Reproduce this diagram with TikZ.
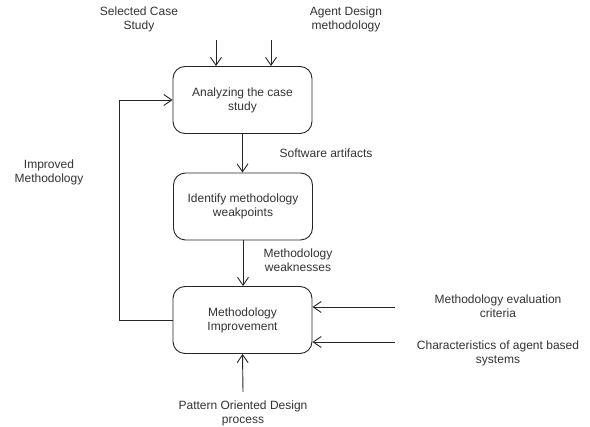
\documentclass[tikz,border=0pt]{standalone}
\usepackage{fontspec}
\setmainfont{Liberation Sans}
\usetikzlibrary{arrows.meta}
\definecolor{ink}{HTML}{262626}
\definecolor{txt}{HTML}{333333}
\tikzset{
  stage/.style={draw=ink, line width=0.9pt, rounded corners=12pt,
    minimum width=139pt, minimum height=67pt, align=center,
    text=txt, font=\fontsize{12}{14}\selectfont, inner sep=0pt},
  lbl/.style={align=center, text=txt, font=\fontsize{12}{14}\selectfont, inner sep=0pt},
  flow/.style={draw=ink, line width=0.9pt, -{Straight Barb[length=8pt,width=11pt,line width=0.9pt]}},
  plain/.style={draw=ink, line width=0.9pt}
}
\begin{document}
\begin{tikzpicture}[x=1pt,y=-1pt]
\useasboundingbox (0,0) rectangle (590,427);
\fill[white] (0,0) rectangle (590,427);

% process stages
\node[stage] (analyze) at (242.5,100) {Analyzing the case\\study};
\node[stage] (identify) at (243,206.5) {Identify methodology\\weakpoints};
\node[stage] (improve) at (242.5,320) {Methodology\\Improvement};

% inputs and labels
\node[lbl] (casestudy) at (139,19) {Selected Case\\Study};
\node[lbl] (agentdesign) at (346,19) {Agent Design\\methodology};
\node[lbl] (improved) at (49,172) {Improved\\Methodology};
\node[lbl] (artifacts) at (326,153) {Software artifacts};
\node[lbl] (weak) at (298,260) {Methodology\\weaknesses};
\node[lbl] (criteria) at (498,306) {Methodology evaluation\\criteria};
\node[lbl] (charac) at (498,353) {Characteristics of agent based\\systems};
\node[lbl] (pattern) at (243,413) {Pattern Oriented Design\\process};

% free ends of the input arrows
\coordinate (inA) at (216,40);
\coordinate (inB) at (271,40);
\coordinate (inC) at (395,307);
\coordinate (inD) at (395,342);
\coordinate (inE) at (243,392);
\coordinate (loopL) at (119,0);

% input arrows
\draw[flow] (inA) -- (inA |- analyze.north);
\draw[flow] (inB) -- (inB |- analyze.north);
\draw[flow] (inC) -- (inC -| improve.east);
\draw[flow] (inD) -- (inD -| improve.east);
\draw[flow] (inE) -- (improve.south);

% main flow
\draw[flow] (analyze.south) -- (analyze.south |- identify.north);
\draw[flow] (identify.south) -- (identify.south |- improve.north);

% feedback loop
\draw[flow] (improve.west) -- (improve.west -| loopL) -- (loopL |- analyze.west) -- (analyze.west);
\end{tikzpicture}
\end{document}
